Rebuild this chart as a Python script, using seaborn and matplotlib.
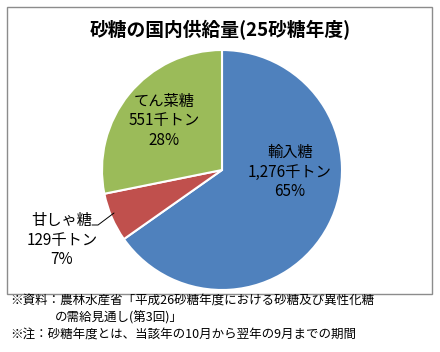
import matplotlib
matplotlib.use("Agg")
import matplotlib.pyplot as plt
import seaborn as sns
from matplotlib.patches import Rectangle

sns.set_theme(style="white")
plt.rcParams['font.family'] = ['Noto Sans CJK JP', 'DejaVu Sans']

categories = ["輸入糖", "甘しゃ糖", "てん菜糖"]
values = [1276, 129, 551]
value_labels = ["1,276千トン", "129千トン", "551千トン"]
pct_labels = ["65%", "7%", "28%"]
colors = ["#4F81BD", "#C0504D", "#9BBB59"]
title = "砂糖の国内供給量(25砂糖年度)"
notes = ["※資料：農林水産省「平成26砂糖年度における砂糖及び異性化糖",
         "の需給見通し(第3回)」",
         "※注：砂糖年度とは、当該年の10月から翌年の9月までの期間"]

W, H = 440, 352
fig = plt.figure(figsize=(W / 100, H / 100), dpi=100)
fig.patch.set_facecolor("white")

# chart frame
fig.patches.append(Rectangle((7 / W, 1 - 294 / H), 425 / W, 287 / H,
                             transform=fig.transFigure, fill=False,
                             edgecolor="#8c8c8c", linewidth=1.0))

cx, cy, r = 222, 170, 120
ax = fig.add_axes([(cx - r) / W, 1 - (cy + r) / H, 2 * r / W, 2 * r / H])
ax.pie(values, colors=colors, startangle=90, counterclock=False,
       wedgeprops=dict(edgecolor="white", linewidth=1.5))
ax.set_xlim(-1, 1)
ax.set_ylim(-1, 1)
ax.set_aspect("auto")
ax.axis("off")

fig.text(0.5, 1 - 30 / H, title, ha="center", va="center",
         fontsize=13.5, fontweight="bold", color="black")

label_pos = [(290, 172), (62, 240), (164, 121)]
for cat, vl, pl, (px, py) in zip(categories, value_labels, pct_labels, label_pos):
    fig.text(px / W, 1 - py / H, f"{cat}\n{vl}\n{pl}", ha="center", va="center",
             fontsize=11, linespacing=1.2, color="black")

# leader line for 甘しゃ糖
fig.lines.append(plt.Line2D([92 / W, 98 / W, 114 / W],
                            [1 - 225 / H, 1 - 225 / H, 1 - 213 / H],
                            transform=fig.transFigure, color="black", linewidth=0.7))

for t, x, y in zip(notes, [10, 55, 10], [301, 318, 335]):
    fig.text(x / W, 1 - y / H, t, ha="left", va="center", fontsize=9, color="black")

fig.savefig("out.png", dpi=100, facecolor="white")
